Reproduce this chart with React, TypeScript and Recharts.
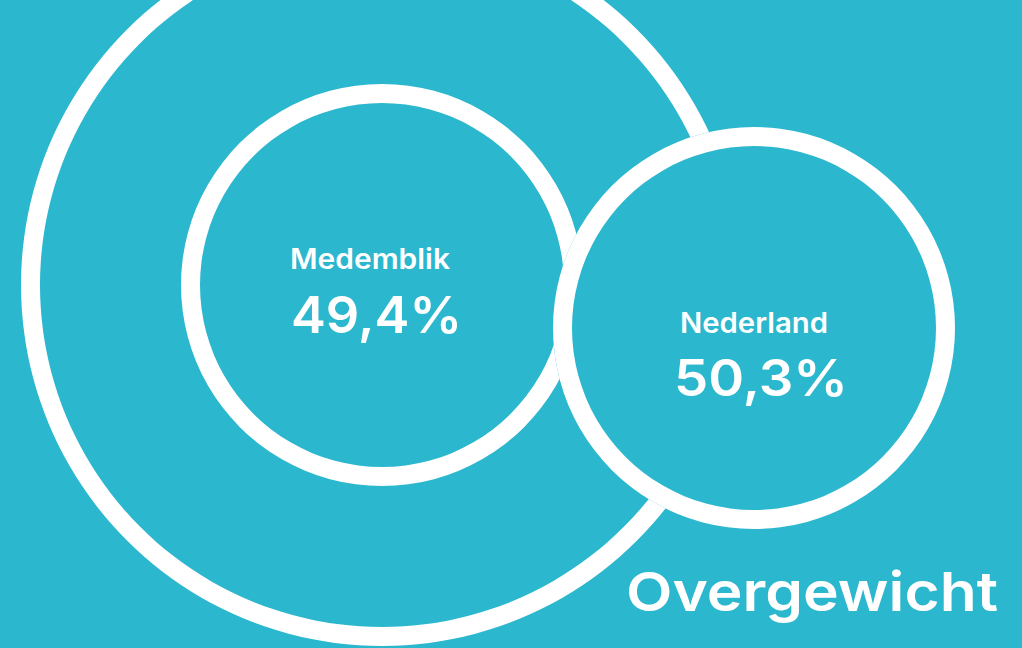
import React from 'react';
import { PieChart, Pie, Label } from 'recharts';

// ---- data ----
const regions = ['Medemblik', 'Nederland'];
const values = [49.4, 50.3];
const title = 'Overgewicht';

// ---- layout / style ----
const W = 1022;
const H = 648;
const BG = '#2BB7CE';
const WHITE = '#FFFFFF';
const FONT = 'Inter, Lato, "Open Sans", sans-serif';

const bigRing = { cx: 382, cy: 285, inner: 342, outer: 361 };
const ringInner = 182;
const ringOuter = 201;
const circleLayout = [
  { cx: 382, cy: 285, nameDx: -92, nameDy: -16, nameW: 160, nameSize: 28, valDx: -91, valDy: 48, valW: 171, valSize: 51 },
  { cx: 754, cy: 328, nameDx: -74, nameDy: 5, nameW: 148, nameSize: 28, valDx: -80, valDy: 68, valW: 174, valSize: 51 },
];
const titleLayout = { x: 626, y: 611, w: 372, size: 54 };

const fmt = (v: number) => v.toFixed(1).replace('.', ',') + '%';

const makeLabel = (i: number) => (props: any) => {
  const vb = props.viewBox || {};
  const cx = vb.cx ?? circleLayout[i].cx;
  const cy = vb.cy ?? circleLayout[i].cy;
  const L = circleLayout[i];
  return (
    <g>
      <text
        x={cx + L.nameDx}
        y={cy + L.nameDy}
        fill={WHITE}
        fontFamily={FONT}
        fontWeight={600}
        fontSize={L.nameSize}
        textLength={L.nameW}
        lengthAdjust="spacingAndGlyphs"
      >
        {regions[i]}
      </text>
      <text
        x={cx + L.valDx}
        y={cy + L.valDy}
        fill={WHITE}
        fontFamily={FONT}
        fontWeight={600}
        fontSize={L.valSize}
        textLength={L.valW}
        lengthAdjust="spacingAndGlyphs"
      >
        {fmt(values[i])}
      </text>
    </g>
  );
};

export default function App() {
  const rows = regions.map((r, i) => [{ name: r, value: values[i] }]);
  return (
    <div style={{ position: 'absolute', left: 0, top: 0, width: W, height: H, background: BG, overflow: 'hidden' }}>
      <PieChart width={W} height={H} margin={{ top: 0, right: 0, bottom: 0, left: 0 }}>
        {/* large outer ring around Medemblik */}
        <Pie
          data={rows[0]}
          dataKey="value"
          cx={bigRing.cx}
          cy={bigRing.cy}
          innerRadius={bigRing.inner}
          outerRadius={bigRing.outer}
          startAngle={90}
          endAngle={-270}
          fill={WHITE}
          stroke="none"
          isAnimationActive={false}
        />
        {/* Medemblik ring */}
        <Pie
          data={rows[0]}
          dataKey="value"
          cx={circleLayout[0].cx}
          cy={circleLayout[0].cy}
          innerRadius={ringInner}
          outerRadius={ringOuter}
          startAngle={90}
          endAngle={-270}
          fill={WHITE}
          stroke="none"
          isAnimationActive={false}
        >
          <Label content={makeLabel(0)} position="center" />
        </Pie>
        {/* Nederland disk */}
        <Pie
          data={rows[1]}
          dataKey="value"
          cx={circleLayout[1].cx}
          cy={circleLayout[1].cy}
          innerRadius={0}
          outerRadius={ringOuter}
          startAngle={90}
          endAngle={-270}
          fill={BG}
          stroke="none"
          isAnimationActive={false}
        />
        {/* Nederland ring */}
        <Pie
          data={rows[1]}
          dataKey="value"
          cx={circleLayout[1].cx}
          cy={circleLayout[1].cy}
          innerRadius={ringInner}
          outerRadius={ringOuter}
          startAngle={90}
          endAngle={-270}
          fill={WHITE}
          stroke="none"
          isAnimationActive={false}
        >
          <Label content={makeLabel(1)} position="center" />
        </Pie>
      </PieChart>
      <svg width={W} height={H} style={{ position: 'absolute', left: 0, top: 0, pointerEvents: 'none' }}>
        <text
          x={titleLayout.x}
          y={titleLayout.y}
          fill={WHITE}
          fontFamily={FONT}
          fontWeight={600}
          fontSize={titleLayout.size}
          textLength={titleLayout.w}
          lengthAdjust="spacingAndGlyphs"
        >
          {title}
        </text>
      </svg>
    </div>
  );
}
